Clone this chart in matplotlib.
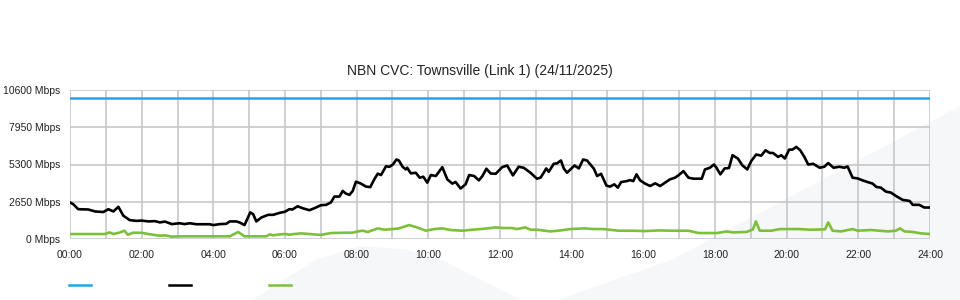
import matplotlib
matplotlib.use("Agg")
import matplotlib.pyplot as plt
from matplotlib.lines import Line2D
from matplotlib.patches import Polygon

plt.rcParams['font.family'] = ['Liberation Sans', 'DejaVu Sans']

TITLE = "NBN CVC: Townsville (Link 1) (24/11/2025)"

# hours since midnight, Mbps
capacity_hours = [0, 24]
capacity_mbps = [10000, 10000]

traffic_hours = [
    0.0, 0.09, 0.23, 0.51, 0.70, 0.93, 1.07, 1.21, 1.35, 1.49, 1.67, 1.86, 2.0, 2.19, 2.37,
    2.51, 2.65, 2.84, 2.99, 3.06, 3.2, 3.34, 3.53, 3.90, 4.0, 4.18, 4.36, 4.46, 4.64, 4.73,
    4.87, 5.03, 5.11, 5.20, 5.34, 5.53, 5.67, 5.85, 6.0, 6.12, 6.21, 6.35, 6.49, 6.68, 6.82,
    7.0, 7.15, 7.28, 7.38, 7.52, 7.61, 7.70, 7.80, 7.89, 7.98, 8.12, 8.26, 8.38, 8.49, 8.59,
    8.68, 8.82, 8.91, 9.01, 9.11, 9.18, 9.28, 9.37, 9.41, 9.51, 9.65, 9.76, 9.86, 9.97, 10.07,
    10.21, 10.39, 10.53, 10.67, 10.76, 10.90, 11.04, 11.14, 11.28, 11.41, 11.51, 11.62, 11.74,
    11.88, 12.06, 12.2, 12.36, 12.52, 12.66, 12.85, 13.03, 13.13, 13.22, 13.29, 13.36, 13.50,
    13.59, 13.70, 13.78, 13.87, 14.08, 14.20, 14.32, 14.43, 14.62, 14.71, 14.82, 14.97, 15.07,
    15.19, 15.29, 15.38, 15.54, 15.63, 15.72, 15.81, 15.91, 16.05, 16.19, 16.33, 16.47, 16.61,
    16.74, 16.88, 16.98, 17.12, 17.26, 17.40, 17.63, 17.72, 17.86, 17.97, 18.04, 18.15, 18.27,
    18.39, 18.49, 18.64, 18.76, 18.90, 19.01, 19.15, 19.29, 19.41, 19.53, 19.62, 19.76, 19.85,
    19.95, 20.07, 20.16, 20.27, 20.38, 20.50, 20.60, 20.74, 20.92, 21.05, 21.16, 21.31, 21.47,
    21.61, 21.70, 21.84, 21.98, 22.12, 22.26, 22.40, 22.50, 22.63, 22.77, 22.91, 23.05, 23.24,
    23.43, 23.52, 23.70, 23.84, 24.0,
]
traffic_mbps = [
    2600, 2475, 2120, 2100, 1960, 1920, 2120, 1960, 2290, 1650, 1340, 1290, 1310, 1250, 1270,
    1180, 1240, 1060, 1100, 1120, 1060, 1120, 1050, 1050, 990, 1060, 1080, 1250, 1250, 1180,
    990, 1890, 1770, 1250, 1530, 1720, 1720, 1860, 1940, 2120, 2100, 2330, 2190, 2050, 2190,
    2400, 2430, 2600, 3020, 3020, 3420, 3230, 3140, 3420, 4080, 3940, 3730, 3690, 4240, 4650,
    4550, 5180, 5130, 5300, 5656, 5580, 5140, 4950, 5070, 4670, 4710, 4360, 4430, 4010, 4550,
    4480, 5110, 4240, 3940, 4060, 3590, 3890, 4550, 4480, 4170, 4480, 5000, 4660,
    4640, 5110, 5230, 4525, 5140, 5070, 4715, 4290, 4360, 4715, 5020, 4780, 5350,
    5380, 5585, 5020, 4715, 5230, 5020, 5656, 5580, 5000, 4480, 4640, 3800, 3725,
    3890, 3655, 4050, 4120, 4190, 4120, 4600, 4170, 3940, 3770, 3960, 3770, 4010,
    4240, 4360, 4530, 4830, 4360, 4290, 4290, 4950, 5070, 5300, 5070, 4600, 5020,
    5050, 5960, 5720, 5250, 4950, 5540, 6010, 5930, 6310, 6120, 6120, 5840, 5960,
    5730, 6360, 6360, 6550, 6310, 5810, 5300, 5350, 5070, 5140, 5400, 5070, 5140,
    5070, 5160, 4360, 4310, 4170, 4050, 3940, 3710, 3650, 3370, 3300, 3060, 2780,
    2710, 2430, 2430, 2240, 2240,
]

upload_hours = [
    0.0, 0.98, 1.10, 1.21, 1.40, 1.52, 1.61, 1.77, 2.0, 2.19, 2.37, 2.51, 2.65, 2.84,
    3.06, 4.46, 4.69, 4.87, 5.48, 5.57, 5.67, 5.85, 6.0, 6.12, 6.26, 6.45, 6.68, 7.0,
    7.28, 7.75, 7.89, 8.03, 8.17, 8.31, 8.59, 8.77, 9.01, 9.18, 9.46, 9.69, 9.93, 10.16,
    10.39, 10.62, 10.95, 11.23, 11.46, 11.65, 11.88, 12.10, 12.34, 12.47, 12.71, 12.85,
    13.03, 13.41, 13.69, 13.96, 14.34, 14.62, 14.89, 15.30, 15.67, 16.05, 16.42, 16.79,
    17.26, 17.54, 18.06, 18.32, 18.50, 18.88, 19.06, 19.14, 19.25, 19.57, 19.81, 20.08,
    20.37, 20.64, 21.07, 21.16, 21.28, 21.52, 21.84, 21.98, 22.35, 22.82, 23.05, 23.16,
    23.29, 23.52, 23.75, 24.0,
]
upload_mbps = [
    354, 354, 470, 354, 470, 590, 310, 450, 440, 354, 280, 235, 260, 165,
    190, 190, 495, 190, 190, 330, 260, 330, 354, 310, 354, 400, 354, 290,
    424, 450, 450, 540, 590, 500, 755, 660, 707, 755, 990, 825, 590, 707,
    755, 640, 590, 660, 707, 755, 825, 780, 780, 707, 825, 660,
    660, 540, 610, 707, 755, 707, 707, 590, 590, 565, 610, 590,
    590, 424, 424, 540, 470, 500, 685, 1250, 590, 590, 707, 707,
    707, 660, 685, 1180, 590, 540, 707, 590, 640, 540, 590, 755,
    540, 500, 400, 354,
]

y_ticks = [0, 2650, 5300, 7950, 10600]
y_labels = ["0 Mbps", "2650 Mbps", "5300 Mbps", "7950 Mbps", "10600 Mbps"]
x_ticks = list(range(0, 25, 2))
x_labels = [f"{h:02d}:00" for h in x_ticks]

BLUE = '#1fa5e8'
BLACK = '#000000'
GREEN = '#7cc03a'
GRID = '#c4c4c4'
SHADE = '#f6f7f9'

fig = plt.figure(figsize=(9.6, 3.0), dpi=100)
W, H = 960.0, 300.0

# faint watermark shapes in the background
def px(pts):
    return [(x / W, 1 - y / H) for x, y in pts]

fig.add_artist(Polygon(px([(253, 300), (317, 260), (360, 247), (405, 250), (445, 262),
                           (520, 300)]), closed=True, color=SHADE, zorder=0))
fig.add_artist(Polygon(px([(560, 300), (673, 260), (960, 107), (960, 300)]),
                       closed=True, color=SHADE, zorder=0))

ax = fig.add_axes([70 / W, 1 - 239 / H, 860 / W, 149 / H])
ax.set_facecolor('none')

ax.plot(capacity_hours, capacity_mbps, color=BLUE, lw=1.8, zorder=3)
ax.plot(traffic_hours, traffic_mbps, color=BLACK, lw=1.9, zorder=4)
ax.plot(upload_hours, upload_mbps, color=GREEN, lw=1.9, zorder=3)

ax.set_xlim(0, 24)
ax.set_ylim(0, 10600)
ax.set_xticks(x_ticks)
ax.set_xticklabels(x_labels)
ax.set_xticks(range(0, 25), minor=True)
ax.set_yticks(y_ticks)
ax.set_yticklabels(y_labels)

ax.grid(True, which='both', axis='x', color=GRID, lw=1.1)
ax.grid(True, which='major', axis='y', color=GRID, lw=1.1)
ax.set_axisbelow(True)
for s in ax.spines.values():
    s.set_visible(False)
ax.tick_params(which='both', length=0, labelsize=7.5, colors='#222222', pad=8)
ax.tick_params(axis='y', pad=7)

fig.text(0.5, 1 - 71 / H, TITLE, ha='center', va='center', fontsize=10, color='#222222')

# legend swatches (labels are blank in the original)
for x0, c in [(69, BLUE), (169, BLACK), (269, GREEN)]:
    fig.add_artist(Line2D([x0 / W, (x0 + 22) / W], [1 - 285 / H, 1 - 285 / H],
                          color=c, lw=1.8))

fig.savefig("out.png", dpi=100)
